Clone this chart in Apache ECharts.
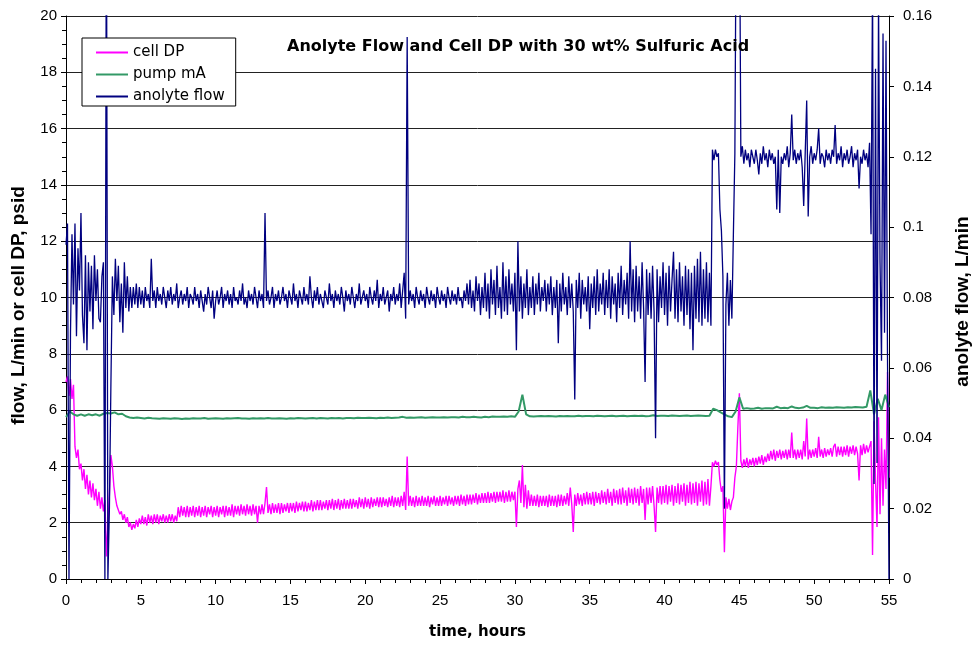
<!DOCTYPE html>
<html>
<head>
<meta charset="utf-8">
<script src="https://cdn.jsdelivr.net/npm/echarts@6/dist/echarts.min.js"></script>
<style>html,body{margin:0;padding:0;background:#fff}#chart{width:974px;height:645px}</style>
</head>
<body>
<div id="chart"></div>
<script>
// ---- DATA ----
const titleText = 'Anolyte Flow and Cell DP with 30 wt% Sulfuric Acid';
const seriesNames = ['cell DP', 'pump mA', 'anolyte flow'];
const xTicks = [0, 5, 10, 15, 20, 25, 30, 35, 40, 45, 50, 55];
const leftTicks = [0, 2, 4, 6, 8, 10, 12, 14, 16, 18, 20];
const rightTicks = [0, 0.02, 0.04, 0.06, 0.08, 0.1, 0.12, 0.14, 0.16];

// time step (hours) between successive readings of each series
const flowStep = 0.1;
const dpStep = 0.1;
const pumpStep = 0.25;

// anolyte flow, L/min (right axis), one row per hour
const anolyteFlow = [
0.095,0.101,0.000,0.070,0.098,0.078,0.101,0.069,0.094,0.082,
0.104,0.075,0.067,0.092,0.065,0.090,0.076,0.089,0.071,0.092,
0.079,0.088,0.074,0.073,0.086,0.090,0.000,0.200,0.000,0.020,
0.055,0.086,0.075,0.091,0.079,0.089,0.073,0.084,0.070,0.090,
0.077,0.086,0.076,0.083,0.077,0.083,0.078,0.084,0.077,0.083,
0.078,0.082,0.077,0.083,0.079,0.081,0.077,0.091,0.079,0.082,
0.077,0.083,0.079,0.081,0.078,0.083,0.080,0.077,0.082,0.079,
0.083,0.078,0.081,0.079,0.084,0.077,0.080,0.082,0.078,0.081,
0.079,0.083,0.077,0.081,0.080,0.078,0.083,0.079,0.081,0.077,
0.082,0.079,0.076,0.081,0.078,0.083,0.080,0.077,0.082,0.074,
0.079,0.082,0.078,0.080,0.083,0.077,0.081,0.079,0.082,0.078,
0.081,0.077,0.083,0.079,0.080,0.078,0.082,0.079,0.084,0.078,
0.080,0.077,0.082,0.079,0.081,0.078,0.083,0.080,0.077,0.082,
0.079,0.081,0.077,0.104,0.079,0.082,0.078,0.080,0.083,0.077,
0.081,0.079,0.082,0.078,0.080,0.083,0.079,0.081,0.077,0.082,
0.080,0.078,0.084,0.079,0.081,0.077,0.082,0.080,0.078,0.083,
0.079,0.081,0.078,0.086,0.080,0.077,0.082,0.079,0.083,0.078,
0.081,0.079,0.077,0.082,0.080,0.078,0.084,0.079,0.081,0.077,
0.082,0.079,0.081,0.078,0.083,0.080,0.076,0.082,0.079,0.081,
0.078,0.083,0.080,0.077,0.081,0.079,0.084,0.078,0.080,0.082,
0.079,0.081,0.077,0.083,0.080,0.078,0.082,0.079,0.085,0.077,
0.081,0.079,0.083,0.078,0.080,0.082,0.076,0.081,0.079,0.083,
0.078,0.081,0.079,0.084,0.077,0.082,0.087,0.074,0.154,0.078,
0.082,0.079,0.081,0.077,0.083,0.080,0.078,0.082,0.079,0.081,
0.077,0.083,0.080,0.078,0.082,0.079,0.081,0.077,0.083,0.080,
0.078,0.082,0.079,0.081,0.077,0.083,0.080,0.078,0.082,0.079,
0.081,0.078,0.083,0.079,0.080,0.077,0.082,0.079,0.084,0.078,
0.085,0.077,0.082,0.076,0.086,0.079,0.084,0.075,0.083,0.077,
0.087,0.076,0.084,0.074,0.088,0.078,0.085,0.075,0.089,0.077,
0.083,0.074,0.090,0.076,0.086,0.075,0.088,0.078,0.084,0.076,
0.087,0.065,0.096,0.076,0.086,0.074,0.084,0.077,0.088,0.075,
0.083,0.077,0.086,0.075,0.084,0.078,0.087,0.076,0.083,0.079,
0.085,0.076,0.084,0.078,0.086,0.075,0.083,0.077,0.085,0.067,
0.084,0.076,0.087,0.078,0.083,0.075,0.086,0.077,0.084,0.076,
0.051,0.085,0.077,0.087,0.074,0.085,0.078,0.083,0.076,0.086,
0.071,0.084,0.077,0.086,0.075,0.088,0.076,0.084,0.078,0.087,
0.075,0.085,0.077,0.088,0.074,0.086,0.078,0.084,0.073,0.087,
0.077,0.089,0.075,0.085,0.078,0.087,0.074,0.096,0.076,0.088,
0.073,0.089,0.076,0.086,0.074,0.090,0.077,0.056,0.088,0.075,
0.087,0.074,0.089,0.076,0.040,0.088,0.073,0.086,0.077,0.090,
0.075,0.087,0.072,0.089,0.076,0.085,0.093,0.074,0.088,0.073,
0.090,0.076,0.086,0.072,0.089,0.075,0.088,0.071,0.087,0.065,
0.089,0.074,0.091,0.073,0.093,0.072,0.088,0.074,0.090,0.073,
0.087,0.072,0.122,0.119,0.122,0.120,0.121,0.105,0.099,0.086,
0.020,0.078,0.087,0.072,0.085,0.074,0.098,0.121,0.200,0.200,
0.200,0.120,0.123,0.118,0.122,0.119,0.121,0.117,0.122,0.120,
0.118,0.122,0.119,0.115,0.121,0.118,0.123,0.119,0.121,0.117,
0.122,0.119,0.121,0.118,0.120,0.105,0.122,0.104,0.120,0.118,
0.121,0.119,0.123,0.117,0.121,0.132,0.119,0.122,0.118,0.121,
0.119,0.122,0.117,0.106,0.121,0.136,0.103,0.120,0.123,0.118,
0.121,0.119,0.122,0.128,0.118,0.121,0.120,0.117,0.122,0.119,
0.121,0.118,0.122,0.120,0.129,0.118,0.121,0.119,0.123,0.117,
0.121,0.119,0.122,0.118,0.120,0.123,0.117,0.121,0.119,0.122,
0.111,0.120,0.118,0.122,0.119,0.121,0.117,0.124,0.098,0.170,
0.027,0.145,0.033,0.165,0.090,0.062,0.155,0.070,0.153,0.063,
0.000
];

// cell DP, psid (left axis), one row per hour
const cellDP = [
7.0,7.2,6.5,7.1,6.4,6.9,4.7,4.3,4.6,3.9,
4.1,3.5,3.9,3.2,3.7,3.0,3.5,2.9,3.4,2.8,
3.2,2.6,3.1,2.5,2.9,2.4,2.8,0.8,1.9,3.0,
4.4,4.0,3.3,2.9,2.6,2.6,2.3,2.4,2.1,2.3,
2.0,2.2,1.85,2.0,1.75,1.95,1.8,2.1,1.85,2.15,
1.95,2.25,1.95,2.2,1.9,2.3,2.0,2.25,1.95,2.3,
2.0,2.3,1.95,2.25,2.05,2.3,2.0,2.25,2.0,2.3,
2.05,2.3,2.0,2.25,2.05,2.55,2.2,2.6,2.25,2.55,
2.2,2.6,2.2,2.55,2.25,2.6,2.2,2.55,2.25,2.6,
2.2,2.55,2.25,2.6,2.2,2.55,2.3,2.6,2.2,2.55,
2.25,2.6,2.2,2.55,2.3,2.6,2.2,2.6,2.25,2.55,
2.25,2.65,2.2,2.6,2.3,2.6,2.25,2.65,2.3,2.6,
2.25,2.65,2.3,2.6,2.25,2.65,2.3,2.6,2.0,2.6,
2.3,2.65,2.3,2.7,3.27,2.35,2.65,2.3,2.7,2.35,
2.65,2.35,2.7,2.3,2.7,2.35,2.65,2.4,2.7,2.35,
2.7,2.4,2.7,2.35,2.75,2.4,2.7,2.45,2.75,2.4,
2.75,2.4,2.7,2.45,2.8,2.4,2.75,2.45,2.8,2.45,
2.8,2.45,2.75,2.5,2.8,2.45,2.8,2.5,2.85,2.45,
2.8,2.5,2.85,2.45,2.8,2.5,2.85,2.5,2.8,2.5,
2.85,2.5,2.85,2.55,2.8,2.5,2.9,2.55,2.85,2.5,
2.9,2.55,2.85,2.5,2.9,2.55,2.85,2.6,2.9,2.55,
2.9,2.55,2.9,2.6,2.85,2.55,2.9,2.6,2.95,2.55,
2.9,2.6,2.9,2.55,2.95,2.6,3.1,2.45,4.35,2.6,
2.95,2.6,2.9,2.55,2.95,2.6,2.9,2.6,2.95,2.6,
2.9,2.6,2.95,2.55,2.9,2.65,2.95,2.6,2.9,2.6,
2.95,2.6,2.9,2.65,2.95,2.6,2.95,2.65,2.9,2.6,
2.95,2.65,2.95,2.6,3.0,2.65,2.95,2.6,3.0,2.65,
3.0,2.65,3.0,2.7,3.05,2.65,3.0,2.7,3.05,2.7,
3.05,2.7,3.1,2.7,3.05,2.75,3.1,2.7,3.1,2.75,
3.1,2.75,3.15,2.7,3.1,2.75,3.15,2.75,3.1,2.8,
3.1,1.85,3.2,3.5,2.7,4.05,2.55,3.35,2.5,3.15,
2.6,3.0,2.6,2.95,2.6,3.0,2.55,2.95,2.6,2.95,
2.6,2.95,2.55,3.0,2.6,2.95,2.6,2.95,2.55,3.0,
2.6,3.0,2.6,2.95,2.65,3.05,2.6,3.25,2.65,1.67,
3.0,2.6,3.05,2.65,3.0,2.6,3.05,2.65,3.1,2.65,
3.05,2.65,3.1,2.6,3.1,2.7,3.05,2.65,3.15,2.7,
3.1,2.65,3.2,2.7,3.1,2.6,3.2,2.7,3.15,2.65,
3.2,2.65,3.25,2.7,3.15,2.6,3.25,2.7,3.2,2.65,
3.25,2.7,3.2,2.6,3.3,2.7,3.2,2.1,3.25,2.65,
3.25,2.7,3.3,2.6,1.67,3.25,2.7,3.3,2.65,3.3,
2.7,3.35,2.65,3.3,2.75,3.35,2.6,3.3,2.7,3.4,
2.65,3.35,2.75,3.4,2.6,3.35,2.7,3.45,2.65,3.4,
2.7,3.45,2.6,3.4,2.75,3.5,2.6,3.45,2.65,3.55,
2.6,3.3,4.15,4.0,4.2,4.05,4.15,3.5,3.1,3.3,
0.95,2.9,2.5,2.85,2.45,2.75,2.9,3.6,4.0,5.4,
6.6,4.2,3.95,4.25,4.0,4.3,3.95,4.25,4.05,4.3,
4.0,4.3,4.05,4.35,4.1,4.4,4.05,4.35,4.15,4.45,
4.2,4.55,4.25,4.6,4.2,4.55,4.3,4.6,4.25,4.55,
4.3,4.6,4.25,4.6,4.3,5.2,4.3,4.6,4.25,4.6,
4.3,4.6,4.25,4.9,4.35,5.7,4.25,4.6,4.3,4.6,
4.35,4.65,4.3,5.05,4.35,4.6,4.3,4.65,4.35,4.6,
4.4,4.65,4.35,4.7,4.8,4.35,4.7,4.4,4.7,4.35,
4.7,4.4,4.75,4.35,4.7,4.45,4.75,4.4,4.7,4.45,
3.5,4.75,4.4,4.8,4.45,4.75,4.5,4.7,4.9,0.85,
5.6,3.5,1.85,5.75,2.3,5.0,2.6,4.6,3.2,7.35,
3.6
];

// pump mA (left axis), one row per hour
const pumpMA = [
5.75,5.95,5.85,5.8,
5.85,5.8,5.85,5.82,
5.85,5.8,5.87,5.9,
5.88,5.92,5.85,5.87,
5.78,5.74,5.72,5.74,
5.72,5.7,5.73,5.71,
5.7,5.69,5.71,5.7,
5.69,5.71,5.7,5.68,
5.7,5.69,5.71,5.7,
5.7,5.72,5.69,5.7,
5.71,5.7,5.69,5.71,
5.7,5.71,5.72,5.7,
5.7,5.69,5.71,5.7,
5.71,5.7,5.72,5.7,
5.7,5.71,5.7,5.69,
5.71,5.7,5.72,5.71,
5.7,5.71,5.72,5.7,
5.72,5.71,5.7,5.72,
5.71,5.72,5.7,5.72,
5.72,5.71,5.73,5.72,
5.72,5.73,5.72,5.71,
5.73,5.72,5.74,5.72,
5.73,5.74,5.76,5.73,
5.74,5.73,5.74,5.75,
5.73,5.74,5.75,5.74,
5.74,5.75,5.74,5.75,
5.75,5.74,5.76,5.75,
5.75,5.76,5.75,5.74,
5.76,5.75,5.77,5.76,
5.76,5.77,5.76,5.78,
5.76,5.95,6.55,5.85,
5.78,5.77,5.78,5.79,
5.78,5.79,5.78,5.77,
5.79,5.78,5.79,5.78,
5.78,5.8,5.78,5.79,
5.79,5.78,5.8,5.79,
5.78,5.79,5.8,5.78,
5.79,5.8,5.78,5.79,
5.8,5.79,5.8,5.78,
5.79,5.82,5.79,5.8,
5.8,5.79,5.81,5.8,
5.79,5.8,5.81,5.79,
5.8,5.81,5.8,5.79,
5.8,6.05,6.0,5.92,
5.85,5.78,5.75,5.95,
6.45,6.05,6.07,6.05,
6.06,6.08,6.05,6.07,
6.07,6.06,6.12,6.07,
6.08,6.07,6.13,6.08,
6.07,6.09,6.15,6.08,
6.08,6.07,6.1,6.08,
6.09,6.08,6.1,6.09,
6.08,6.1,6.09,6.11,
6.1,6.09,6.12,6.7,
5.85,6.4,6.0,6.55,
6.1
];

// ---- build series points from the arrays ----
function toPoints(values, step) {
  return values.map(function (v, i) { return [Math.round(i * step * 100) / 100, v]; });
}

const chart = echarts.init(document.getElementById('chart'), null, { renderer: 'canvas' });
const font = 'Liberation Sans, Arial, sans-serif';
const wide = 'DejaVu Sans, Liberation Sans, sans-serif';
const black = '#000';

chart.setOption({
  animation: false,
  backgroundColor: '#fff',
  textStyle: { fontFamily: font },
  title: {
    text: titleText,
    left: 287, top: 39, padding: 0,
    textStyle: { fontFamily: wide, fontWeight: 'bold', fontSize: 16, color: black }
  },
  legend: {
    data: seriesNames,
    orient: 'vertical',
    left: 82, top: 38,
    padding: [7, 11, 2, 13],
    itemGap: 7,
    itemWidth: 32, itemHeight: 14,
    borderColor: black, borderWidth: 1,
    backgroundColor: '#fff',
    itemStyle: { opacity: 0 },
    textStyle: { fontFamily: wide, fontSize: 15, color: black },
    z: 10
  },
  grid: { left: 66, right: 85, top: 16, bottom: 66, containLabel: false, outerBoundsMode: 'none' },
  xAxis: {
    type: 'value', min: xTicks[0], max: xTicks[xTicks.length - 1], interval: xTicks[1] - xTicks[0],
    axisLine: { lineStyle: { color: black, width: 1 } },
    axisTick: { length: 5, lineStyle: { color: black } },
    minorTick: { show: true, splitNumber: 5, length: 4, lineStyle: { color: black } },
    splitLine: { show: false },
    axisLabel: { fontFamily: font, fontSize: 15, color: black, margin: 14 },
    name: 'time, hours', nameLocation: 'middle', nameGap: 46,
    nameTextStyle: { fontFamily: wide, fontWeight: 'bold', fontSize: 15, color: black }
  },
  yAxis: [
    {
      type: 'value', min: leftTicks[0], max: leftTicks[leftTicks.length - 1], interval: leftTicks[1] - leftTicks[0],
      axisLine: { show: true, lineStyle: { color: black, width: 1 } },
      axisTick: { show: true, length: 5, lineStyle: { color: black } },
      minorTick: { show: true, splitNumber: 4, length: 4, lineStyle: { color: black } },
      splitLine: { show: true, lineStyle: { color: '#222', width: 1 } },
      axisLabel: { fontFamily: font, fontSize: 15, color: black, margin: 9 },
      name: 'flow, L/min or cell DP, psid', nameLocation: 'middle', nameGap: 38,
      nameTextStyle: { fontFamily: font, fontWeight: 'bold', fontSize: 19, color: black, padding: [0, 16, 0, 0] }
    },
    {
      type: 'value', position: 'right', min: rightTicks[0], max: rightTicks[rightTicks.length - 1], interval: rightTicks[1] - rightTicks[0],
      axisLine: { show: true, lineStyle: { color: black, width: 1 } },
      axisTick: { show: true, length: 5, lineStyle: { color: black } },
      splitLine: { show: false },
      axisLabel: { fontFamily: font, fontSize: 15, color: black, margin: 14 },
      name: 'anolyte flow, L/min', nameLocation: 'middle', nameGap: 64, nameRotate: 90,
      nameTextStyle: { fontFamily: font, fontWeight: 'bold', fontSize: 19, color: black, padding: [0, 8, 0, 0] }
    }
  ],
  series: [
    {
      name: seriesNames[0], type: 'line', yAxisIndex: 0, symbol: 'none', showSymbol: false,
      data: toPoints(cellDP, dpStep),
      lineStyle: { color: '#FF00FF', width: 1.4 }, itemStyle: { color: '#FF00FF' }, z: 2
    },
    {
      name: seriesNames[1], type: 'line', yAxisIndex: 0, symbol: 'none', showSymbol: false,
      data: toPoints(pumpMA, pumpStep),
      lineStyle: { color: '#339966', width: 2 }, itemStyle: { color: '#339966' }, z: 3
    },
    {
      name: seriesNames[2], type: 'line', yAxisIndex: 1, symbol: 'none', showSymbol: false,
      data: toPoints(anolyteFlow, flowStep),
      lineStyle: { color: '#000080', width: 1.3 }, itemStyle: { color: '#000080' }, z: 4
    }
  ]
});
</script>
</body>
</html>
